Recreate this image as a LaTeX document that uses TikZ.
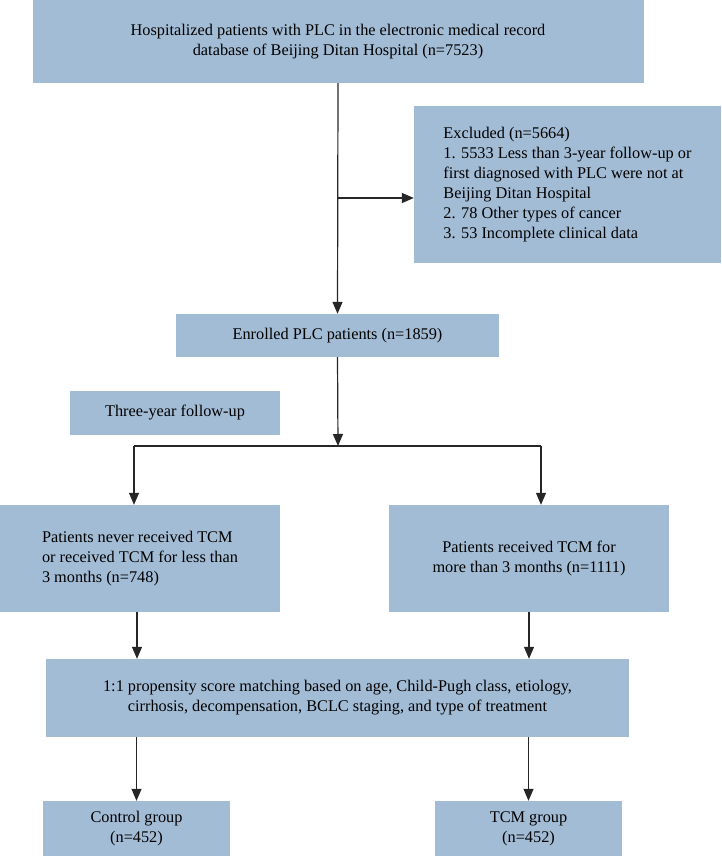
\documentclass[tikz,border=0pt]{standalone}
\usepackage{fontspec}
\setmainfont{Liberation Serif}
\usepackage{tikz}
\usetikzlibrary{arrows.meta, calc, positioning}
\definecolor{boxblue}{RGB}{163,188,213}
\tikzset{
	every node/.style={
		font=\fontsize{16.3}{20}\selectfont
	},
	stage/.style={
		shape=rectangle,
		fill=boxblue,
		inner sep=0pt,
		align=center
	},
	listing/.style={
		shape=rectangle,
		fill=boxblue,
		inner sep=0pt,
		align=left
	},
	flow/.style={
		-{Triangle[length=12pt,width=10pt]},
		line width=1.2pt,
		color=black!85
	}
}

\begin{document}
\begin{tikzpicture}[x=1pt,y=-1pt]
	\useasboundingbox (0,0) rectangle (721,856);
	
	% boxes
	\node[stage, minimum width=611pt, minimum height=83pt] (hosp) at (338,41.5)
		{Hospitalized patients with PLC in the electronic medical record\\database of Beijing Ditan Hospital (n=7523)};
	\node[listing, minimum width=307pt, minimum height=157pt] (excl) at (567.5,184.5)
		{Excluded (n=5664)\\1. 5533 Less than 3-year follow-up or\\first diagnosed with PLC were not at\\Beijing Ditan Hospital\\2. 78 Other types of cancer\\3. 53 Incomplete clinical data};
	\node[stage, minimum width=323pt, minimum height=43pt] (enrol) at (337.5,335.5)
		{Enrolled PLC patients (n=1859)};
	\node[stage, minimum width=210pt, minimum height=44pt] (follow) at (175,413)
		{Three-year follow-up};
	\node[listing, minimum width=280pt, minimum height=107pt] (never) at (140,558.5)
		{Patients never received TCM\\or received TCM for less than\\3 months (n=748)};
	\node[stage, minimum width=280pt, minimum height=107pt] (recv) at (529,558.5)
		{Patients received TCM for\\more than 3 months (n=1111)};
	\node[stage, minimum width=583pt, minimum height=78pt] (psm) at (337.5,698)
		{1:1 propensity score matching based on age, Child-Pugh class, etiology,\\cirrhosis, decompensation, BCLC staging, and type of treatment};
	\node[stage, minimum width=187pt, minimum height=55pt] (ctrl) at (136.5,828.5)
		{Control group\\(n=452)};
	\node[stage, minimum width=187pt, minimum height=55pt] (tcm) at (528.5,828.5)
		{TCM group\\(n=452)};
	
	% connectors
	\coordinate (exbr) at (338,198);
	\coordinate (split) at (338,446);
	\coordinate (splitl) at (134,446);
	\coordinate (splitr) at (541,446);
	
	\draw[flow] (hosp.south) -- (enrol.north);
	\draw[flow] (exbr) -- (exbr -| excl.west);
	\draw[flow] (enrol.south) -- (split);
	\draw[flow, -] (splitl) -- (splitr);
	\draw[flow] (splitl) -- (splitl |- never.north);
	\draw[flow] (splitr) -- (splitr |- recv.north);
	\draw[flow] ([xshift=-3pt]never.south) -- ([xshift=-3pt]never.south |- psm.north);
	\draw[flow] (recv.south) -- (recv.south |- psm.north);
	\draw[flow] (ctrl.north |- psm.south) -- (ctrl.north);
	\draw[flow] (tcm.north |- psm.south) -- (tcm.north);
	
\end{tikzpicture}
\end{document}
